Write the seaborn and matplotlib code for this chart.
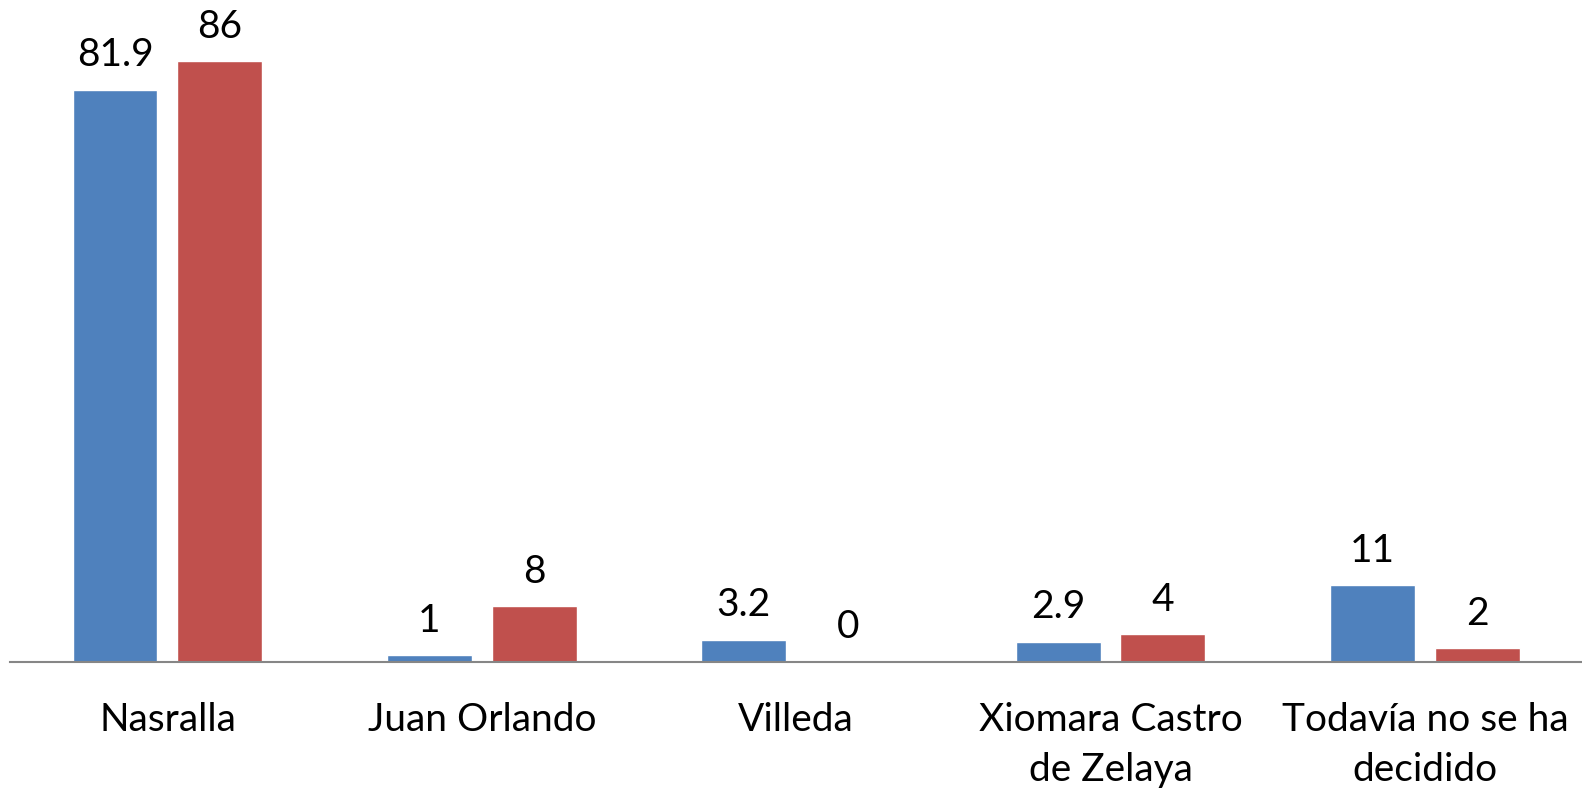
import pandas as pd
import matplotlib.pyplot as plt
import seaborn as sns

# Values
categories = ['Nasralla', 'Juan Orlando', 'Villeda', 'Xiomara Castro\nde Zelaya',
              'Todavía no se ha\ndecidido']
series_a = [81.9, 1, 3.2, 2.9, 11]
series_b = [86, 8, 0, 4, 2]
series_names = ['Serie 1', 'Serie 2']

df = pd.DataFrame({
    'cat': categories * 2,
    'val': series_a + series_b,
    'serie': [series_names[0]] * len(categories) + [series_names[1]] * len(categories),
})

sns.set_theme(style='white')
plt.rcParams['font.family'] = ['Lato', 'DejaVu Sans']

fig = plt.figure(figsize=(15.82, 7.93), dpi=100)
ax = fig.add_axes([0.0065, 0.165, 0.9935, 0.835])

sns.barplot(data=df, x='cat', y='val', hue='serie', order=categories,
            palette=['#4F81BD', '#C0504D'], width=0.667, gap=0.19,
            saturation=1, legend=False, ax=ax)

# value labels above every bar (including the zero bar)
for cont in ax.containers:
    ax.bar_label(cont, labels=[f'{v:g}' for v in cont.datavalues],
                 padding=12, fontsize=28, color='black')

ax.set_ylim(0, 94.8)
ax.set_xlim(-0.5, 4.5)
ax.set_xlabel('')
ax.set_ylabel('')
ax.set_yticks([])
for side in ['left', 'right', 'top']:
    ax.spines[side].set_visible(False)
ax.spines['bottom'].set_color('#868686')
ax.spines['bottom'].set_linewidth(1.5)
ax.tick_params(axis='x', length=0, pad=29, labelsize=28, colors='black')
for lbl in ax.get_xticklabels():
    lbl.set_linespacing(1.47)

fig.savefig('out.png', dpi=100)
